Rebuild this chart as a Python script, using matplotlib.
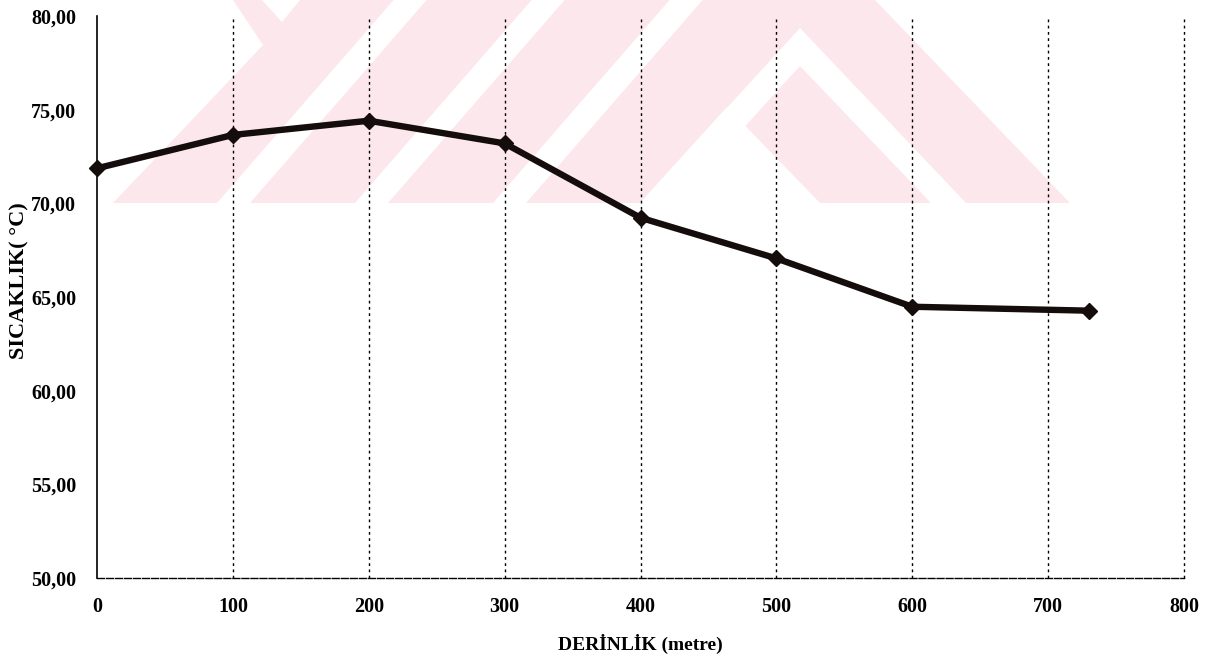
import matplotlib
matplotlib.use("Agg")
import matplotlib.pyplot as plt
from matplotlib.patches import Polygon

# Veriler: derinlik (m) ve sıcaklık (°C)
derinlik = [0, 100, 200, 300, 400, 500, 600, 730]
sicaklik = [71.87, 73.65, 74.41, 73.20, 69.23, 67.06, 64.48, 64.27]

x_ticks = [0, 100, 200, 300, 400, 500, 600, 700, 800]
y_ticks = [50, 55, 60, 65, 70, 75, 80]
y_tick_labels = ["50,00", "55,00", "60,00", "65,00", "70,00", "75,00", "80,00"]

plt.rcParams.update({
    "font.family": ["Liberation Serif", "DejaVu Serif"],
    "font.weight": "bold",
    "axes.labelweight": "bold",
})

fig = plt.figure(figsize=(12.26, 6.61), dpi=100)

# ── arka plandaki soluk pembe filigran (piksel koordinatları) ──
bg = fig.add_axes([0, 0, 1, 1], zorder=0)
bg.set_xlim(0, 1226)
bg.set_ylim(661, 0)
bg.axis("off")
pink = "#fce8ec"
H, s, w = 203, 0.87, 33

# pembe ana alan
bg.add_patch(Polygon([(113, H), (1070, H), (875, 0), (233, 0), (263, 45)],
                     facecolor=pink, edgecolor="none"))
# beyaz çizgiler "/"
for xb in (217, 355, 493):
    bg.add_patch(Polygon([(xb, H), (xb + w, H), (xb + w + s * H, 0), (xb + s * H, 0)],
                         facecolor="white", edgecolor="none"))
# beyaz şerit "Λ" ve üçgen
bg.add_patch(Polygon([(640, H), (800, 28), (966, H), (931, H), (800, 66), (675, H)],
                     facecolor="white", edgecolor="none"))
bg.add_patch(Polygon([(640, H), (727, 107), (820, H)], facecolor="white", edgecolor="none"))
# sol üstteki çentik
bg.add_patch(Polygon([(262, 0), (300, 0), (282, 22)], facecolor="white", edgecolor="none"))

# ── ana grafik ──
ax = fig.add_axes([97 / 1226, 1 - 578 / 661, (1184 - 97) / 1226, (578 - 16) / 661], zorder=1)
ax.patch.set_alpha(0)

ax.plot(derinlik, sicaklik, color="#150c0c", lw=4.6, marker="D", markersize=8,
        markerfacecolor="#150c0c", markeredgecolor="#150c0c", zorder=3, clip_on=False)

ax.set_xlim(0, 800)
ax.set_ylim(50, 80)
ax.set_xticks(x_ticks)
ax.set_yticks(y_ticks)
ax.set_yticklabels(y_tick_labels)
ax.tick_params(axis="both", length=0, labelsize=14.5)
ax.tick_params(axis="x", pad=14)
ax.tick_params(axis="y", pad=15)

for xv in x_ticks[1:]:
    ax.axvline(xv, color="black", lw=1.0, ls=(0, (2, 2.5)), zorder=1, clip_on=False)

for sp in ["top", "right"]:
    ax.spines[sp].set_visible(False)
ax.spines["left"].set_linewidth(1.2)
ax.spines["bottom"].set_linewidth(1.0)
ax.spines["bottom"].set_linestyle((0, (5, 1.5)))

ax.set_xlabel("DERİNLİK (metre)", fontsize=14, labelpad=12)
ax.set_ylabel("SICAKLIK( °C)", fontsize=16)
ax.yaxis.set_label_coords(-0.062, 0.53)

fig.savefig("out.png", dpi=100)
